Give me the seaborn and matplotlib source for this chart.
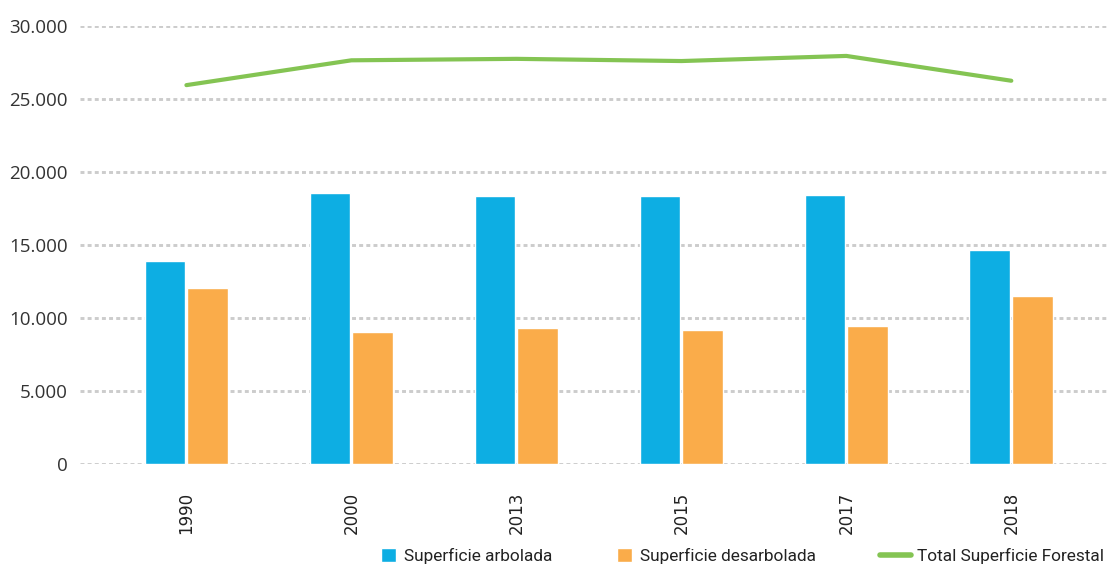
import numpy as np
import pandas as pd
import matplotlib
matplotlib.use("Agg")
import matplotlib.pyplot as plt
from matplotlib.patches import Patch
from matplotlib.lines import Line2D
from matplotlib.ticker import FuncFormatter
import seaborn as sns

# Forest area (hectares) by year
years = ["1990", "2000", "2013", "2015", "2017", "2018"]
arbolada = [13900, 18560, 18360, 18360, 18420, 14660]
desarbolada = [12050, 9040, 9320, 9180, 9450, 11500]
total_forestal = [25950, 27650, 27750, 27600, 27950, 26250]

series_names = ["Superficie arbolada", "Superficie desarbolada", "Total Superficie Forestal"]
c_blue = "#0DAEE3"
c_orange = "#FAAC4A"
c_green = "#84C453"

sns.set_theme(style="white")
plt.rcParams["font.family"] = ["Open Sans", "DejaVu Sans"]

df = pd.DataFrame({
    "year": years * 2,
    "value": arbolada + desarbolada,
    "serie": [series_names[0]] * len(years) + [series_names[1]] * len(years),
})

W, H = 1107, 569
fig = plt.figure(figsize=(W / 100, H / 100), dpi=100)
ax = fig.add_axes([80 / W, 105 / H, (W - 80) / W, 438 / H])

sns.barplot(data=df, x="year", y="value", hue="serie", order=years,
            hue_order=series_names[:2], palette=[c_blue, c_orange],
            width=0.52, gap=0.05, saturation=1, ax=ax, legend=False)
sns.lineplot(x=np.arange(len(years)), y=total_forestal, color=c_green,
             linewidth=3.0, ax=ax, legend=False)

ax.set_xlim(-0.645, 5.58)
ax.set_ylim(0, 30000)
ax.set_yticks(np.arange(0, 30001, 5000))
ax.yaxis.set_major_formatter(FuncFormatter(lambda v, p: f"{v:,.0f}".replace(",", ".")))
ax.set_xticks(np.arange(len(years)))
ax.set_xticklabels(years, rotation=90, family="DejaVu Sans", fontsize=12,
                   color="#222222")
ax.set_xlabel("")
ax.set_ylabel("")
for s in ax.spines.values():
    s.set_visible(False)
ax.set_axisbelow(True)
ax.yaxis.grid(True, color="#cccccc", linewidth=2.1, linestyle=(0, (1.35, 1.1)))
ax.xaxis.grid(False)
ax.tick_params(axis="y", length=0, pad=9, labelsize=13.5, labelcolor="#333333")
ax.tick_params(axis="x", length=0, pad=20)

# Legend entries, each placed along the bottom edge
legend_font = {"family": ["Roboto", "Open Sans"], "size": 12.4}
entries = [
    (Patch(facecolor=c_blue), series_names[0], 381, 0.85, 0.5),
    (Patch(facecolor=c_orange), series_names[1], 617, 0.85, 0.5),
    (Line2D([], [], color=c_green, linewidth=4), series_names[2], 880, 1.8, 0.33),
]
for handle, label, x0, hl, tp in entries:
    leg = fig.legend([handle], [label], loc="center left",
                     bbox_to_anchor=(x0 / W, 1 - 556 / H), frameon=False,
                     prop=legend_font, handlelength=hl, handleheight=0.85,
                     handletextpad=tp, borderpad=0, borderaxespad=0)
    for t in leg.get_texts():
        t.set_color("#222222")

fig.savefig("out.png", dpi=100)
